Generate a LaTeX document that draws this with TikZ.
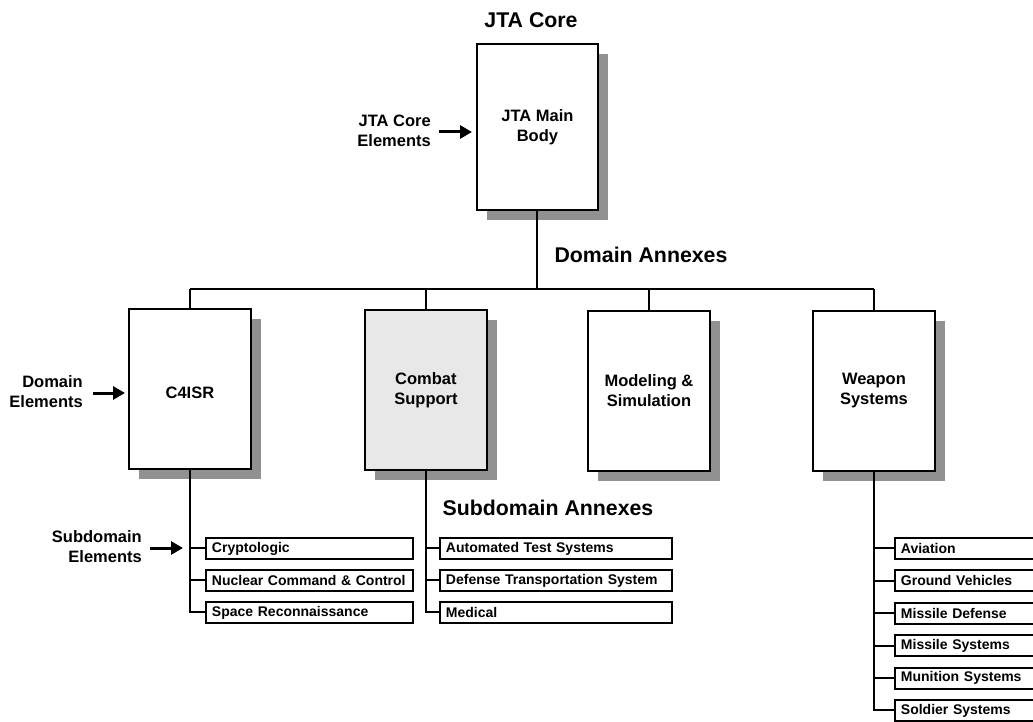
\documentclass[tikz,border=0pt]{standalone}
\usepackage{fontspec}
\setmainfont{Liberation Sans}
\usetikzlibrary{shadows,arrows.meta}
\definecolor{shadowgray}{RGB}{145,145,145}
\definecolor{lightfill}{RGB}{232,232,232}
\tikzset{
  annexbox/.style={draw=black, line width=1.9pt, fill=white, minimum width=122pt, minimum height=160pt,
    anchor=north west, align=center, inner sep=0pt,
    font=\bfseries\fontsize{16.5}{20}\selectfont,
    drop shadow={shadow xshift=10pt, shadow yshift=-10pt, fill=shadowgray, opacity=1}},
  subbox/.style={draw=black, line width=1.9pt, fill=white, minimum height=21pt, anchor=north west,
    align=left, inner xsep=6pt, inner ysep=0pt, font=\bfseries\fontsize{14}{16}\selectfont},
  title/.style={font=\bfseries\fontsize{21.3}{24}\selectfont, inner sep=0pt},
  sidelabel/.style={font=\bfseries\fontsize{16.5}{20}\selectfont, align=right, inner sep=0pt, anchor=east},
  link/.style={line width=2pt},
  bigarrow/.style={line width=3pt, -{Triangle[length=12pt,width=13pt]}},
}
\begin{document}
\begin{tikzpicture}[x=1pt,y=-1pt]
\useasboundingbox (0,0) rectangle (1033,722);
\clip (0,0) rectangle (1033,722);

% titles
\node[title] (tcore) at (531,20) {JTA Core};
\node[title] (tdom) at (641,255) {Domain Annexes};
\node[title] (tsub) at (548,508) {Subdomain Annexes};

% main body
\node[annexbox, minimum height=166pt, minimum width=121pt] (main) at (476,43) {JTA Main\\Body};

% domain boxes
\node[annexbox] (c4) at (128,308) {\raisebox{-4pt}[\height][\depth]{C4ISR}};
\node[annexbox, fill=lightfill] (cs) at (364,309) {Combat\\Support};
\node[annexbox] (ms) at (587,310) {Modeling \&\\Simulation};
\node[annexbox] (ws) at (812,310) {Weapon\\Systems};

% bar
\coordinate (bar) at (0,289);
\draw[link] (main.south) -- (main.south |- bar);
\draw[link] (c4.north |- bar) -- (ws.north |- bar);
\foreach \b in {c4,cs,ms,ws} \draw[link] (\b.north |- bar) -- (\b.north);

% C4ISR subdomains
\node[subbox, text width=195pt] (c1) at (205,537) {Cryptologic};
\node[subbox, text width=195pt] (c2) at (205,569) {Nuclear Command \& Control};
\node[subbox, text width=195pt] (c3) at (205,601) {Space Reconnaissance};
\draw[link] (c4.south) |- (c3.west);
\foreach \s in {c1,c2} \draw[link] (c4.south |- \s.west) -- (\s.west);

% Combat Support subdomains
\node[subbox, text width=220pt] (s1) at (439,537) {Automated Test Systems};
\node[subbox, text width=220pt] (s2) at (439,569) {Defense Transportation System};
\node[subbox, text width=220pt] (s3) at (439,601) {Medical};
\draw[link] (cs.south) |- (s3.west);
\foreach \s in {s1,s2} \draw[link] (cs.south |- \s.west) -- (\s.west);

% Weapon Systems subdomains
\node[subbox, text width=150pt] (w1) at (894,537) {Aviation};
\node[subbox, text width=150pt] (w2) at (894,569.4) {Ground Vehicles};
\node[subbox, text width=150pt] (w3) at (894,601.8) {Missile Defense};
\node[subbox, text width=150pt] (w4) at (894,634.2) {Missile Systems};
\node[subbox, text width=150pt] (w5) at (894,666.6) {Munition Systems};
\node[subbox, text width=150pt] (w6) at (894,699) {Soldier Systems};
\draw[link] (ws.south) |- (w6.west);
\foreach \s in {w1,w2,w3,w4,w5} \draw[link] (ws.south |- \s.west) -- (\s.west);

% side labels
\node[sidelabel] (lcore) at (431,131) {JTA Core\\Elements};
\node[sidelabel] (ldom) at (83,392) {Domain\\Elements};
\node[sidelabel] (lsub) at (142,547) {Subdomain\\Elements};
\coordinate (acore) at (472,132);
\coordinate (adom) at (125,393);
\coordinate (asub) at (183,548);
\draw[bigarrow] (acore -| lcore.east) ++(8,0) -- (acore);
\draw[bigarrow] (adom -| ldom.east) ++(10,0) -- (adom);
\draw[bigarrow] (asub -| lsub.east) ++(8,0) -- (asub);
\end{tikzpicture}
\end{document}
